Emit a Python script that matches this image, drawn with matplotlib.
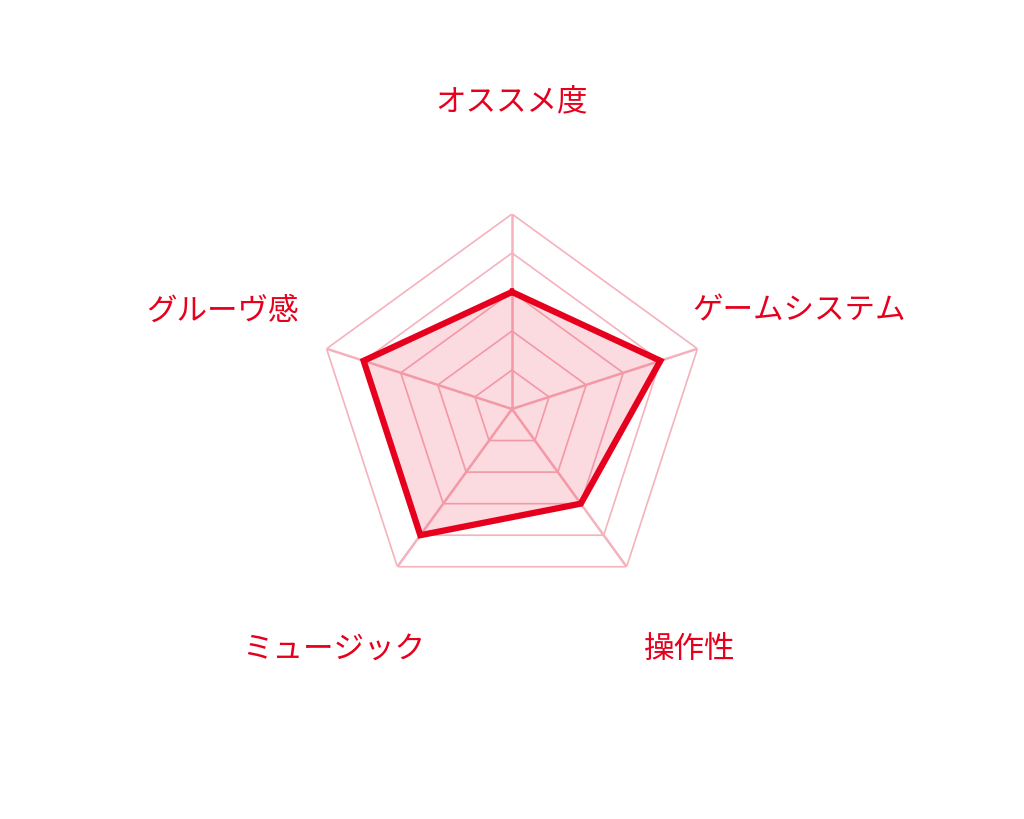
import numpy as np
import matplotlib
matplotlib.use("Agg")
import matplotlib.pyplot as plt

plt.rcParams["font.family"] = ["Noto Sans CJK JP", "DejaVu Sans"]

# データ
labels = ["オススメ度", "ゲームシステム", "操作性", "ミュージック", "グルーヴ感"]
values = [3, 4, 3, 4, 4]
levels = [1, 2, 3, 4, 5]
r_max = 5

RED = "#e6001e"
GRID = "#f5b2bd"

n = len(labels)
angles = np.pi / 2 - np.arange(n) * 2 * np.pi / n
closed = np.append(angles, angles[0])

fig = plt.figure(figsize=(10.24, 8.2), dpi=100)
w = 390 / 1024
h = 390 / 820
ax = fig.add_axes([0.5 - w / 2, 0.5 - h / 2, w, h], projection="polar")
ax.set_ylim(0, r_max)
ax.set_axis_off()

# 目盛りの五角形
for lv in levels:
    ax.plot(closed, [lv] * (n + 1), color=GRID, lw=1.2, zorder=1)
# 軸線
for a in angles:
    ax.plot([a, a], [0, r_max], color=GRID, lw=1.8, zorder=1)

# データ
vals = values + values[:1]
ax.fill(closed, vals, color=RED, alpha=0.14, zorder=2, lw=0)
ax.plot(closed, vals, color=RED, lw=4.5, zorder=3, solid_joinstyle="miter")

# ラベル (角度・半径は見た目合わせ)
label_deg = [90, 19.7, -52.9, -127.3, 160.4]
label_r = [8.0, 7.82, 7.56, 7.56, 7.87]
for d, lab, lr in zip(label_deg, labels, label_r):
    ax.annotate(lab, xy=(np.deg2rad(d), lr), xytext=(0, -3),
                textcoords="offset points", color=RED, fontsize=22,
                ha="center", va="center", annotation_clip=False)

fig.savefig("out.png", dpi=100)
